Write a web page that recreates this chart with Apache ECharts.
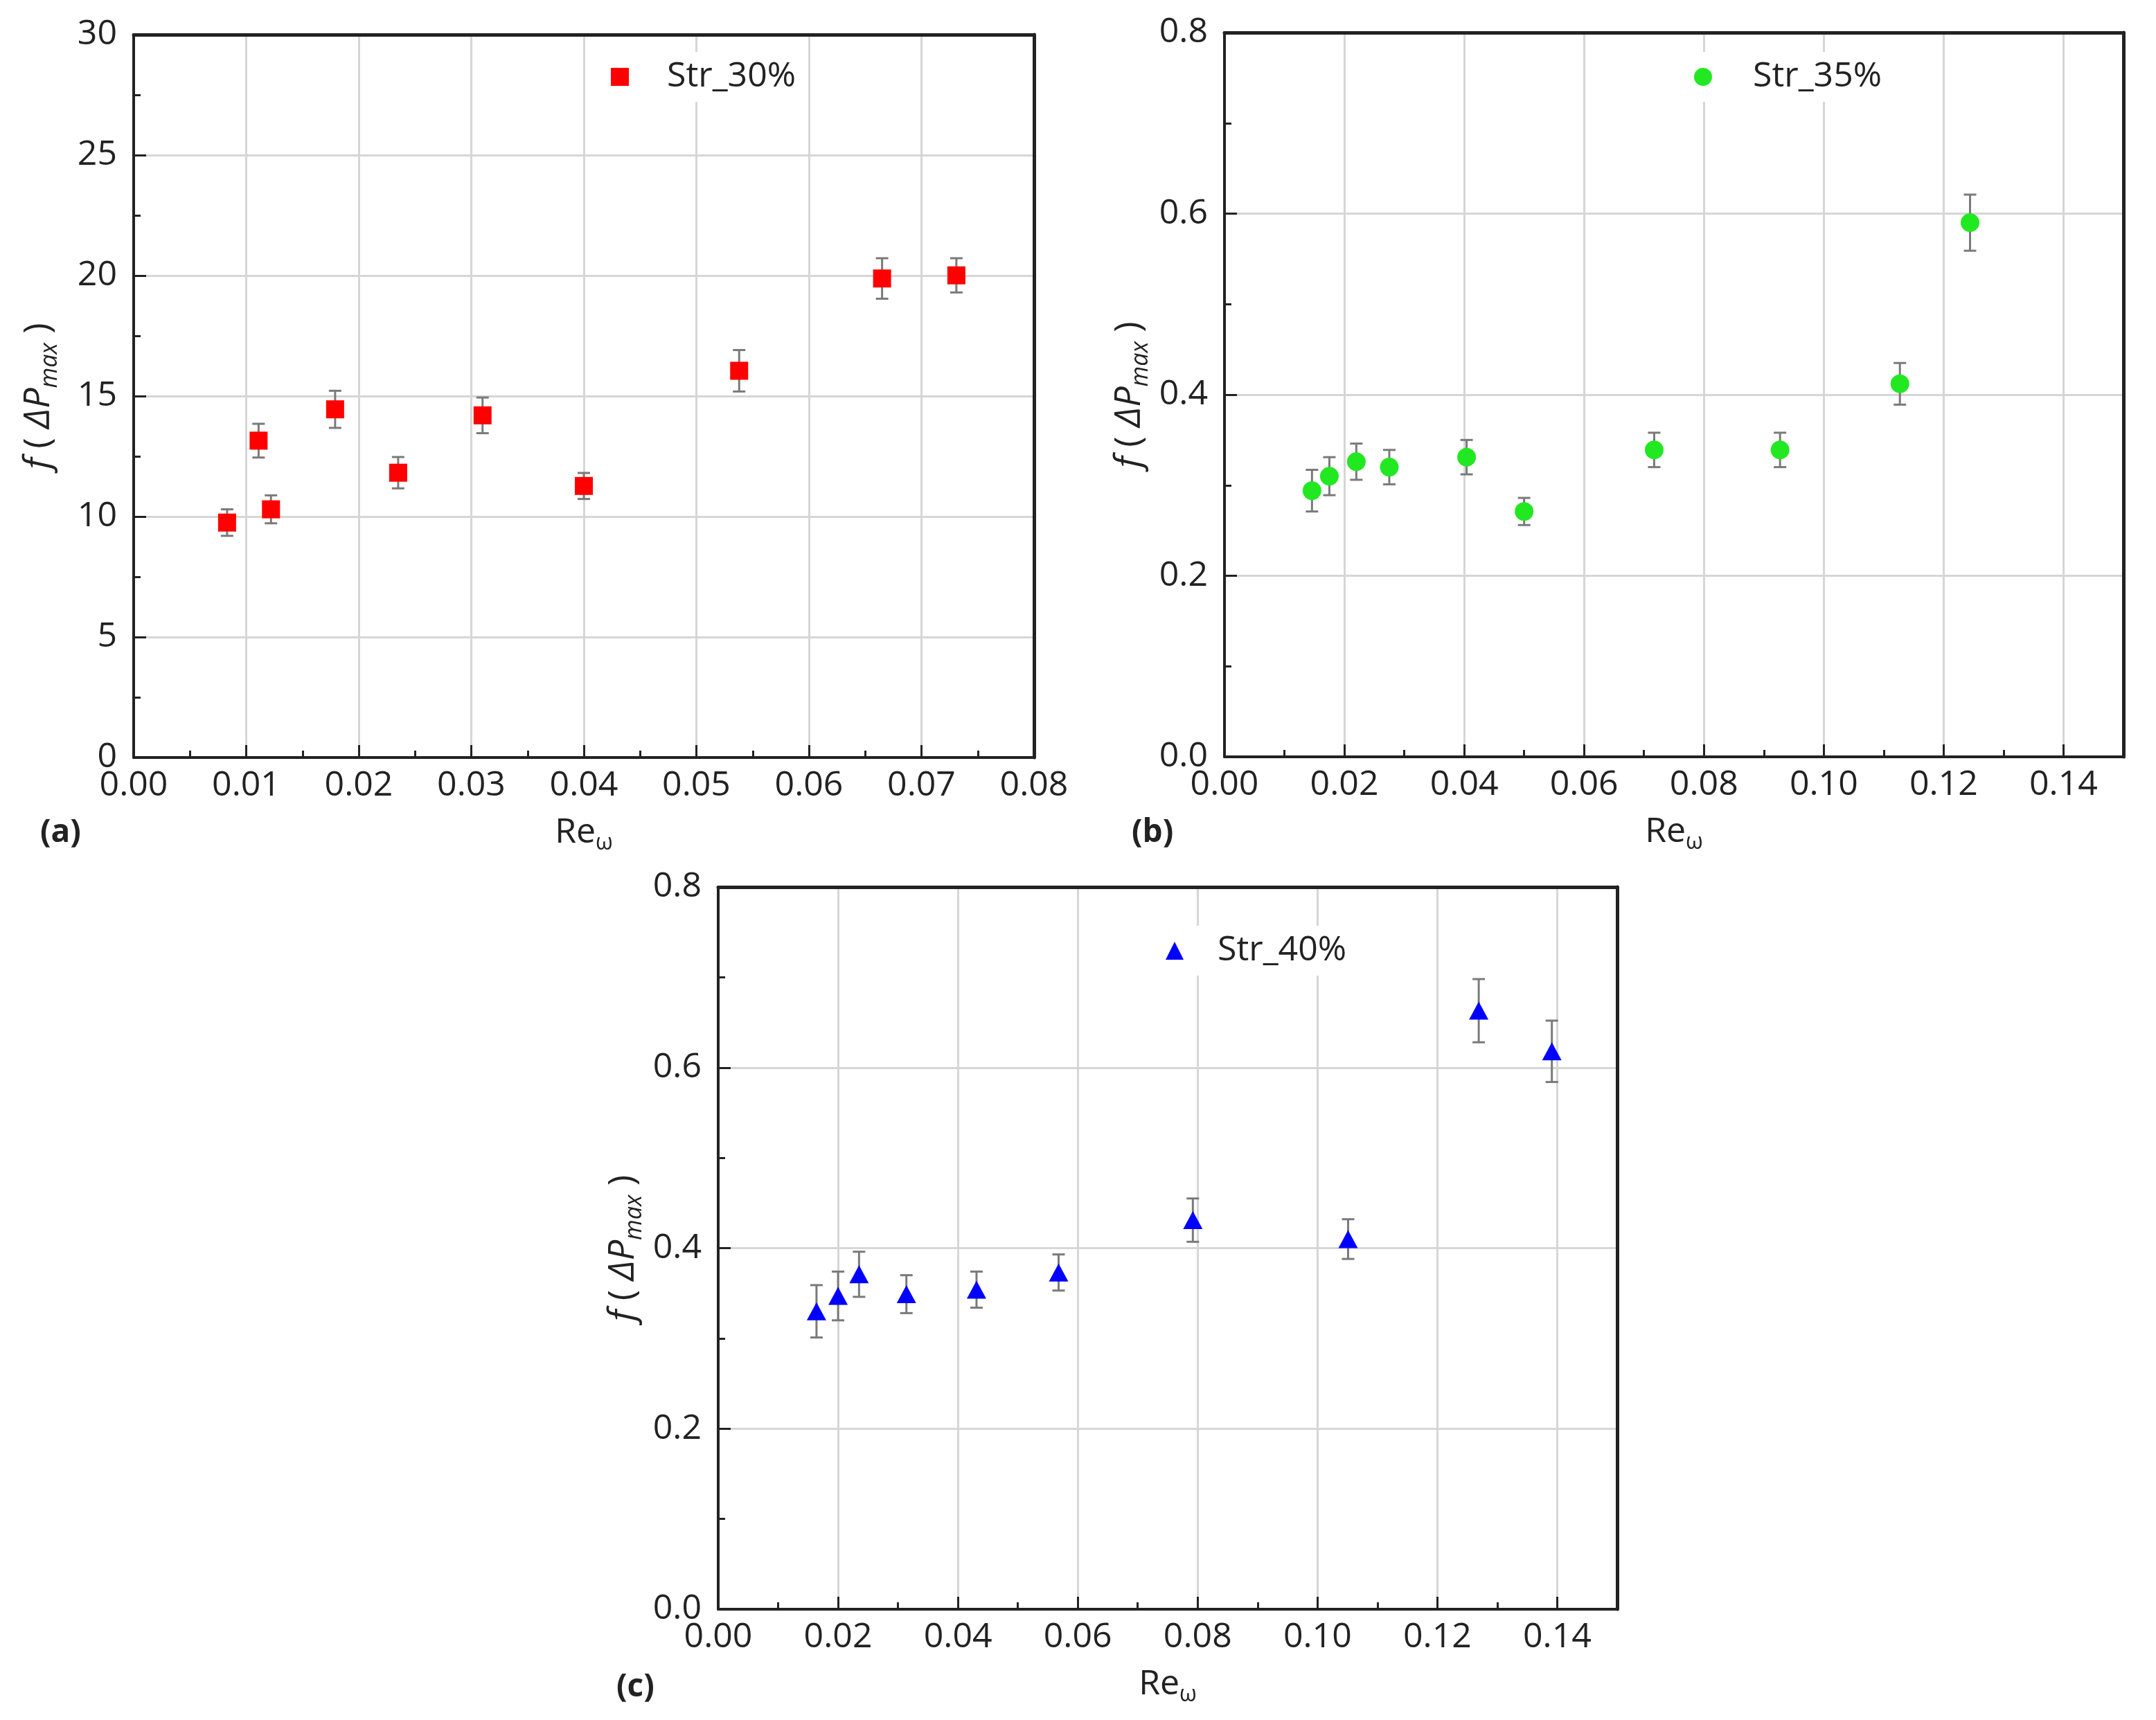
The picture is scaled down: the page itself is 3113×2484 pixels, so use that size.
<!DOCTYPE html>
<html>
<head>
<meta charset="utf-8">
<script src="https://cdn.jsdelivr.net/npm/echarts@6/dist/echarts.min.js"></script>
<style>
html,body{margin:0;padding:0;background:#fff;}
#chart{width:3113px;height:2484px;}
</style>
</head>
<body>
<div id="chart"></div>
<script>
// ---- Data ----
const aName = 'Str_30%';
const aRe  = [0.0083, 0.0111, 0.0122, 0.0179, 0.0235, 0.0310, 0.0400, 0.0538, 0.0665, 0.0731];
const aF   = [9.75, 13.15, 10.30, 14.45, 11.82, 14.20, 11.27, 16.05, 19.88, 20.01];
const aErr = [0.55, 0.70, 0.58, 0.77, 0.65, 0.74, 0.54, 0.86, 0.84, 0.71];

const bName = 'Str_35%';
const bRe  = [0.0146, 0.0175, 0.0220, 0.0275, 0.0404, 0.0500, 0.0717, 0.0927, 0.1127, 0.1244];
const bF   = [0.294, 0.310, 0.326, 0.320, 0.331, 0.271, 0.339, 0.339, 0.412, 0.590];
const bErr = [0.023, 0.021, 0.020, 0.019, 0.019, 0.015, 0.019, 0.019, 0.023, 0.031];

const cName = 'Str_40%';
const cRe  = [0.0164, 0.0200, 0.0235, 0.0314, 0.0431, 0.0568, 0.0792, 0.1051, 0.1269, 0.1391];
const cF   = [0.330, 0.347, 0.371, 0.349, 0.354, 0.373, 0.431, 0.410, 0.663, 0.618];
const cErr = [0.029, 0.027, 0.025, 0.021, 0.020, 0.020, 0.024, 0.022, 0.035, 0.034];

const panelLabels = ['(a)', '(b)', '(c)'];
const xTitle = '{n|Re}{s|ω}';
const yTitle = '{i|f}{n| ( }{i|ΔP}{s|max}{n| )}';

// ---- Styles ----
const FONT = 'Open Sans';
const AX = '#222';
const GRIDC = '#d6d6d6';

const grids = [
  {left: 193, top: 50, width: 1300, height: 1044},
  {left: 1768, top: 47, width: 1298, height: 1046},
  {left: 1037, top: 1281, width: 1298, height: 1043}
];
const xRanges = [[0.08, 0.01], [0.15, 0.02], [0.15, 0.02]];
const yRanges = [[30, 5, 0], [0.8, 0.2, 1], [0.8, 0.2, 1]];

function xAxisDef(idx, max, interval) {
  return {
    type: 'value', gridIndex: idx, min: 0, max: max, interval: interval,
    name: xTitle, nameLocation: 'middle', nameGap: 78,
    nameTextStyle: {
      rich: {
        n: {fontFamily: FONT, fontSize: 50, color: AX},
        s: {fontFamily: FONT, fontSize: 32, color: AX, padding: [30, 0, 0, 0]}
      }
    },
    axisLine: {show: true, onZero: false, lineStyle: {color: AX, width: 4}},
    axisTick: {show: true, inside: true, length: 18, lineStyle: {color: AX, width: 3}},
    minorTick: {show: true, splitNumber: 2, length: 10, lineStyle: {color: AX, width: 3}},
    splitLine: {show: true, lineStyle: {color: GRIDC, width: 3}},
    axisLabel: {
      fontFamily: FONT, fontSize: 50, color: AX, margin: 16, showMaxLabel: max === 0.08,
      formatter: v => v.toFixed(2)
    }
  };
}
function yAxisDef(idx, max, interval, dec) {
  return {
    type: 'value', gridIndex: idx, min: 0, max: max, interval: interval,
    name: yTitle, nameLocation: 'middle', nameRotate: 90, nameGap: 104,
    nameTextStyle: {
      rich: {
        i: {fontFamily: FONT, fontSize: 52, fontStyle: 'italic', color: AX},
        n: {fontFamily: FONT, fontSize: 52, color: AX},
        s: {fontFamily: FONT, fontSize: 34, fontStyle: 'italic', color: AX, padding: [32, 0, 0, 0]}
      }
    },
    axisLine: {show: true, onZero: false, lineStyle: {color: AX, width: 4}},
    axisTick: {show: true, inside: true, length: 18, lineStyle: {color: AX, width: 3}},
    minorTick: {show: true, splitNumber: 2, length: 10, lineStyle: {color: AX, width: 3}},
    splitLine: {show: true, lineStyle: {color: GRIDC, width: 3}},
    axisLabel: {
      fontFamily: FONT, fontSize: 50, color: AX, margin: 24,
      formatter: v => v.toFixed(dec)
    }
  };
}
// frame axes (top / right) drawn over the grid lines
function frameX(idx, max, interval) {
  return {type: 'value', gridIndex: idx, position: 'top', min: 0, max: max, interval: interval,
    axisLine: {show: true, onZero: false, lineStyle: {color: AX, width: 5}},
    axisTick: {show: false}, axisLabel: {show: false}, splitLine: {show: false}};
}
function frameY(idx, max, interval) {
  return {type: 'value', gridIndex: idx, position: 'right', min: 0, max: max, interval: interval,
    axisLine: {show: true, onZero: false, lineStyle: {color: AX, width: 5}},
    axisTick: {show: false}, axisLabel: {show: false}, splitLine: {show: false}};
}

function errorSeries(idx, xs, ys, es) {
  return {
    type: 'custom', xAxisIndex: idx, yAxisIndex: idx, z: 2, silent: true,
    data: xs.map((x, i) => [x, ys[i] - es[i], ys[i] + es[i]]),
    encode: {x: 0, y: [1, 2]},
    renderItem: function (params, api) {
      const x = api.value(0);
      const lo = api.coord([x, api.value(1)]);
      const hi = api.coord([x, api.value(2)]);
      const w = 9;
      const st = {stroke: '#7a7a7a', lineWidth: 3};
      return {
        type: 'group',
        children: [
          {type: 'line', shape: {x1: hi[0], y1: hi[1], x2: lo[0], y2: lo[1]}, style: st},
          {type: 'line', shape: {x1: hi[0] - w, y1: hi[1], x2: hi[0] + w, y2: hi[1]}, style: st},
          {type: 'line', shape: {x1: lo[0] - w, y1: lo[1], x2: lo[0] + w, y2: lo[1]}, style: st}
        ]
      };
    }
  };
}
function scatterSeries(idx, name, xs, ys, symbol, size, color) {
  return {
    type: 'scatter', name: name, xAxisIndex: idx, yAxisIndex: idx, z: 5,
    symbol: symbol, symbolSize: size,
    itemStyle: {color: color, opacity: 1},
    data: xs.map((x, i) => [x, ys[i]])
  };
}
function legendDef(name, left, top, padLeft) {
  return {
    data: [name], left: left, top: top, orient: 'horizontal',
    backgroundColor: '#fff', padding: [8, 16], itemWidth: 26, itemHeight: 26,
    textStyle: {fontFamily: FONT, fontSize: 50, color: AX, lineHeight: 56, padding: [0, 0, 0, padLeft]}
  };
}

const option = {
  backgroundColor: '#fff',
  animation: false,
  grid: grids.map(g => Object.assign({show: false}, g)),
  xAxis: xRanges.map((r, i) => xAxisDef(i, r[0], r[1]))
    .concat(xRanges.map((r, i) => frameX(i, r[0], r[1]))),
  yAxis: yRanges.map((r, i) => yAxisDef(i, r[0], r[1], r[2]))
    .concat(yRanges.map((r, i) => frameY(i, r[0], r[1]))),
  legend: [
    legendDef(aName, 866, 75, 50),
    legendDef(bName, 2430, 75, 54),
    legendDef(cName, 1667, 1337, 44)
  ],
  series: [
    errorSeries(0, aRe, aF, aErr),
    scatterSeries(0, aName, aRe, aF, 'rect', 26, '#ff0000'),
    errorSeries(1, bRe, bF, bErr),
    scatterSeries(1, bName, bRe, bF, 'circle', 27, '#22e822'),
    errorSeries(2, cRe, cF, cErr),
    scatterSeries(2, cName, cRe, cF, 'triangle', [28, 26], '#0000ff')
  ],
  graphic: [
    {type: 'text', left: 58, top: 1180, style: {text: panelLabels[0], fontFamily: FONT, fontSize: 46, fontWeight: 'bold', fill: AX}},
    {type: 'text', left: 1634, top: 1180, style: {text: panelLabels[1], fontFamily: FONT, fontSize: 46, fontWeight: 'bold', fill: AX}},
    {type: 'text', left: 890, top: 2414, style: {text: panelLabels[2], fontFamily: FONT, fontSize: 46, fontWeight: 'bold', fill: AX}}
  ]
};

const chart = echarts.init(document.getElementById('chart'), null, {renderer: 'canvas'});
chart.setOption(option);
</script>
</body>
</html>
